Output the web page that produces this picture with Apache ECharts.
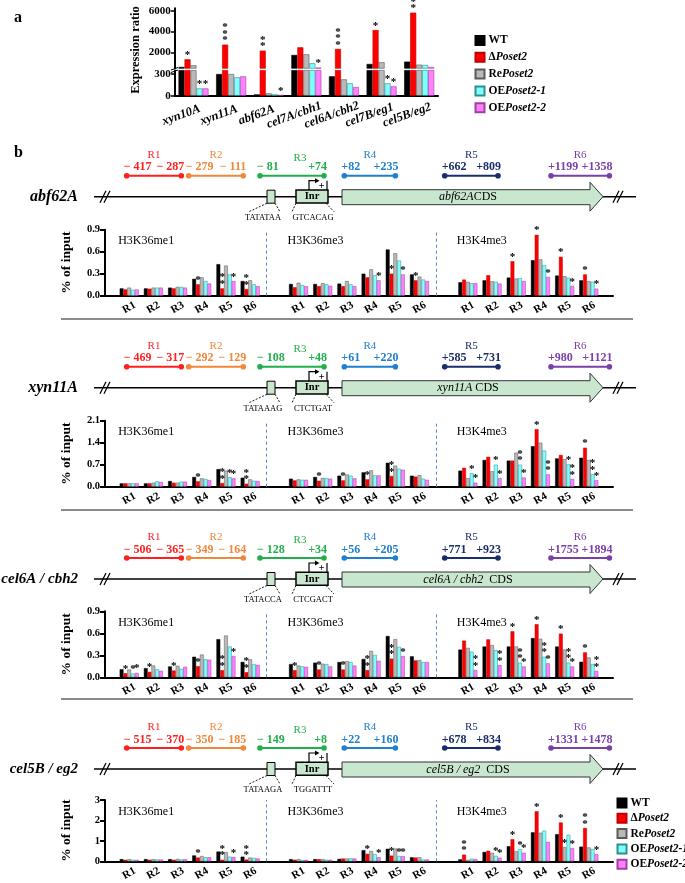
<!DOCTYPE html>
<html><head><meta charset="utf-8">
<script src="https://cdn.jsdelivr.net/npm/echarts@6/dist/echarts.min.js"></script>
<style>html,body{margin:0;padding:0;background:#fff}#c{width:685px;height:883px}</style>
</head><body><div id="c"></div>
<script>
const SERIF = '"Liberation Serif","Times New Roman",serif';

// ---------- common ----------
const seriesNames = ['WT','ΔPoset2','RePoset2','OEPoset2-1','OEPoset2-2'];
const seriesColors = ['#000000','#ff0000','#b9b9b9','#80ffff','#ff80ff'];
const seriesBorders = ['#000000','#c00000','#5a5a5a','#2f8f8f','#a040a0'];

// ---------- panel a ----------
const exprGenes = ['xyn10A','xyn11A','abf62A','cel7A/cbh1','cel6A/cbh2','cel7B/eg1','cel5B/eg2'];
const exprWT    = [580, 300,   18, 1742,  268,  871, 1097];
const exprDelta = [1323, 2742, 2161, 2484, 2323, 4161, 5839];
const exprRe    = [740, 300,   32, 1806,  226, 1032,  806];
const exprOE1   = [101, 254,   18,  935,  171,  171,  774];
const exprOE2   = [101, 268,    9,  516,  120,  129,  581];
const exprStars = [[1,0,'*'],[3,0,'*'],[4,0,'*'],[1,1,'*\n*\n*'],[1,2,'*\n*'],[4,2,'*'],[4,3,'*'],
                   [1,4,'*\n*\n*'],[1,5,'*'],[3,5,'*'],[4,5,'*'],[1,6,'*\n*']];
const exprLowerTicks = [0, 300];
const exprUpperTicks = [2000, 4000, 6000];

// ---------- panel b ----------
const regions = ['R1','R2','R3','R4','R5','R6'];
const marks = ['H3K36me1','H3K36me3','H3K4me3'];
const genes = ['abf62A','xyn11A','cel6A / cbh2','cel5B / eg2'];
const yMax  = [0.9, 2.1, 0.9, 3];
const yStep = [0.3, 0.7, 0.3, 1];

// values: H3K36me1 R1-R6, H3K36me3 R1-R6, H3K4me3 R1-R6
const abf62A_WT    = [0.10,0.10,0.11,0.23,0.43,0.20, 0.16,0.16,0.165,0.30,0.63,0.29, 0.183,0.21,0.247,0.485,0.275,0.21];
const abf62A_Delta = [0.086,0.095,0.10,0.155,0.10,0.09, 0.115,0.13,0.13,0.25,0.30,0.21, 0.22,0.28,0.47,0.83,0.53,0.29];
const abf62A_Re    = [0.11,0.11,0.12,0.25,0.41,0.21, 0.177,0.17,0.20,0.36,0.58,0.26, 0.19,0.197,0.233,0.495,0.265,0.20];
const abf62A_OE1   = [0.08,0.11,0.12,0.20,0.29,0.155, 0.145,0.155,0.155,0.28,0.48,0.22, 0.17,0.19,0.238,0.417,0.243,0.19];
const abf62A_OE2   = [0.085,0.11,0.11,0.165,0.20,0.13, 0.13,0.135,0.13,0.21,0.29,0.20, 0.17,0.165,0.20,0.256,0.133,0.096];
const abf62A_stars = [[1,3,'*'],[1,4,'*\n*'],[4,4,'*'],[1,5,'*\n*'],[4,9,'*'],[1,10,'*'],[4,10,'*'],[1,11,'*'],
                      [1,14,'*'],[1,15,'*'],[4,15,'*'],[1,16,'*'],[4,16,'*'],[1,17,'*'],[4,17,'*']];

const xyn11A_WT    = [0.106,0.106,0.18,0.31,0.56,0.286, 0.255,0.31,0.35,0.456,0.76,0.35, 0.51,0.85,0.83,1.29,0.90,0.92];
const xyn11A_Delta = [0.106,0.106,0.127,0.17,0.117,0.095, 0.20,0.19,0.20,0.233,0.34,0.32, 0.60,0.95,0.83,1.83,1.01,1.24];
const xyn11A_Re    = [0.106,0.127,0.127,0.265,0.51,0.233, 0.233,0.276,0.39,0.52,0.67,0.37, 0.27,0.49,1.08,1.40,0.88,0.85];
const xyn11A_OE1   = [0.106,0.17,0.16,0.244,0.30,0.19, 0.22,0.276,0.35,0.36,0.57,0.255, 0.43,0.70,0.70,1.15,0.71,0.40];
const xyn11A_OE2   = [0.106,0.15,0.16,0.21,0.265,0.18, 0.22,0.255,0.265,0.36,0.54,0.22, 0.13,0.27,0.29,0.39,0.245,0.21];
const xyn11A_stars = [[1,3,'*'],[1,4,'*\n*'],[3,4,'*'],[4,4,'*'],[1,5,'*\n*'],[1,7,'*'],[1,8,'*'],[1,9,'*'],[1,10,'*\n*'],
                      [3,12,'*'],[4,12,'*'],[3,13,'*'],[4,13,'*'],[3,14,'*\n*'],[4,14,'*'],[1,15,'*'],[4,15,'*\n*'],
                      [3,16,'*'],[4,16,'*\n*'],[1,17,'*'],[3,17,'*\n*'],[4,17,'*']];

const cel6A_WT    = [0.11,0.125,0.148,0.28,0.52,0.21, 0.18,0.20,0.208,0.25,0.563,0.286, 0.378,0.42,0.42,0.535,0.42,0.212];
const cel6A_Delta = [0.055,0.074,0.092,0.152,0.097,0.069, 0.097,0.106,0.106,0.097,0.254,0.23, 0.50,0.517,0.627,0.724,0.595,0.34];
const cel6A_Re    = [0.106,0.16,0.157,0.31,0.57,0.245, 0.16,0.185,0.22,0.36,0.52,0.235, 0.40,0.44,0.42,0.526,0.378,0.27];
const cel6A_OE1   = [0.05,0.11,0.115,0.245,0.42,0.18, 0.148,0.18,0.208,0.305,0.415,0.208, 0.35,0.37,0.20,0.28,0.20,0.18];
const cel6A_OE2   = [0.06,0.088,0.143,0.24,0.29,0.17, 0.143,0.148,0.16,0.226,0.29,0.208, 0.10,0.166,0.147,0.19,0.147,0.087];
const cel6A_stars = [[1,0,'*'],[3,0,'*'],[4,0,'*'],[1,1,'*'],[1,2,'*'],[1,3,'*'],[1,4,'*\n*'],[4,4,'*'],[1,5,'*\n*'],
                     [1,6,'*'],[1,7,'*'],[1,8,'*'],[1,9,'*\n*'],[1,10,'*\n*'],[4,10,'*'],
                     [4,12,'*\n*'],[4,13,'*\n*'],[1,14,'*'],[3,14,'*\n*'],[4,14,'*'],[1,15,'*'],[3,15,'*\n*'],[4,15,'*'],
                     [1,16,'*'],[3,16,'*\n*'],[4,16,'*'],[1,17,'*'],[4,17,'*\n*']];

const cel5B_WT    = [0.11,0.11,0.11,0.29,0.48,0.23, 0.11,0.11,0.12,0.55,0.615,0.20, 0.10,0.46,0.74,1.42,1.33,0.72];
const cel5B_Delta = [0.077,0.08,0.08,0.185,0.08,0.09, 0.08,0.11,0.14,0.37,0.28,0.185, 0.33,0.52,1.08,2.45,1.90,1.63];
const cel5B_Re    = [0.11,0.11,0.12,0.26,0.45,0.185, 0.11,0.11,0.14,0.51,0.63,0.20, 0.07,0.42,0.50,1.40,0.70,0.68];
const cel5B_OE1   = [0.077,0.09,0.09,0.20,0.23,0.17, 0.06,0.08,0.15,0.35,0.26,0.09, 0.13,0.27,0.60,1.50,1.30,0.60];
const cel5B_OE2   = [0.077,0.09,0.11,0.20,0.215,0.14, 0.077,0.08,0.14,0.20,0.26,0.09, 0.11,0.18,0.42,0.95,0.65,0.35];
const cel5B_stars = [[1,3,'*'],[1,4,'*\n*'],[4,4,'*'],[1,5,'*\n*'],[1,9,'*'],[4,9,'*'],[1,10,'*'],[3,10,'*'],[4,10,'*'],
                     [1,12,'*\n*'],[3,13,'*'],[4,13,'*'],[1,14,'*'],[3,14,'*'],[4,14,'*'],[1,15,'*'],
                     [1,16,'*'],[2,16,'*'],[4,16,'*'],[1,17,'*\n*'],[4,17,'*']];

// promoter schematic texts
const regionColors = ['#ff1f1f','#f2873a','#1fb04c','#1f7fd0','#1a2d6b','#7a3fa8'];
const regionNums = [
  [['− 417','− 287'],['− 279','− 111'],['− 81','+74'],['+82','+235'],['+662','+809'],['+1199','+1358']],
  [['− 469','− 317'],['− 292','− 129'],['− 108','+48'],['+61','+220'],['+585','+731'],['+980','+1121']],
  [['− 506','− 365'],['− 349','− 164'],['− 128','+34'],['+56','+205'],['+771','+923'],['+1755','+1894']],
  [['− 515','− 370'],['− 350','− 185'],['− 149','+8'],['+22','+160'],['+678','+834'],['+1331','+1478']]
];
const tataSeq = ['TATATAA','TATAAAG','TATACCA','TATAAGA'];
const inrSeq  = ['GTCACAG','CTCTGAT','CTCGACT','TGGATTT'];
const cdsGene = ['abf62A','xyn11A','cel6A / cbh2','cel5B / eg2'];
const cdsSuffix = ['CDS',' CDS','  CDS','  CDS'];

// ---------- layout (positions only) ----------
const L = {
  aLeft:174.7, aWidth:263.3, aUpTop:8.3, aUpH:60, aLowTop:70.4, aLowH:25.3,
  bLeft:105, bWidth:508,
  bTop:[229.7,420.7,611.3,800], bH:66,
  geneY:[196.7,387.7,579,769],
  sepY:[319,510,699],
  seg:[[126.7,181.3],[188.7,243.3],[260,324],[344.3,395.4],[444.7,498],[551,609.4]]
};

const geneData = [
  [abf62A_WT,abf62A_Delta,abf62A_Re,abf62A_OE1,abf62A_OE2],
  [xyn11A_WT,xyn11A_Delta,xyn11A_Re,xyn11A_OE1,xyn11A_OE2],
  [cel6A_WT,cel6A_Delta,cel6A_Re,cel6A_OE1,cel6A_OE2],
  [cel5B_WT,cel5B_Delta,cel5B_Re,cel5B_OE1,cel5B_OE2]
];
const geneStars = [abf62A_stars,xyn11A_stars,cel6A_stars,cel5B_stars];
const exprData = [exprWT,exprDelta,exprRe,exprOE1,exprOE2];

// ---------- build ----------
const starLabel = {show:true, position:'top', distance:1, color:'#000', fontFamily:SERIF,
                   fontSize:11, fontWeight:'bold', lineHeight:6.5};
function catsB(){ const c=['']; for(let m=0;m<3;m++){ regions.forEach(r=>c.push(r)); c.push(''); } return c; }
function posIdx(p){ return 1 + Math.floor(p/6)*7 + p%6; }

const grids=[], xAxes=[], yAxes=[], series=[];
const axisLineStyle = {show:true, lineStyle:{color:'#000', width:2}};

// panel a grids
grids.push({left:L.aLeft, top:L.aUpTop, width:L.aWidth, height:L.aUpH});
grids.push({left:L.aLeft, top:L.aLowTop, width:L.aWidth, height:L.aLowH});
xAxes.push({type:'category', gridIndex:0, data:exprGenes, show:false});
xAxes.push({type:'category', gridIndex:1, data:exprGenes, axisLine:axisLineStyle, axisTick:{show:false},
  axisLabel:{interval:0, rotate:20, margin:15, align:'center', verticalAlign:'middle', padding:[0,26,0,0],
    color:'#000', fontFamily:SERIF, fontSize:12.5, fontWeight:'bold', fontStyle:'italic'}});
const aYLabel = {color:'#000', fontFamily:SERIF, fontSize:11, fontWeight:'bold', margin:4, formatter:v=>String(v)};
yAxes.push({type:'value', gridIndex:0, min:450, max:6260, splitLine:{show:false}, axisLine:axisLineStyle,
  axisTick:{show:true, length:4, lineStyle:{width:1.5,color:'#000'}, customValues:exprUpperTicks},
  axisLabel:Object.assign({customValues:exprUpperTicks}, aYLabel)});
yAxes.push({type:'value', gridIndex:1, min:0, max:350, splitLine:{show:false}, axisLine:axisLineStyle,
  axisTick:{show:true, length:4, lineStyle:{width:1.5,color:'#000'}, customValues:exprLowerTicks},
  axisLabel:Object.assign({customValues:exprLowerTicks}, aYLabel)});

for(let s=0;s<5;s++){
  for(let part=0;part<2;part++){
    const data = exprData[s].map((v,i)=>{
      const st = exprStars.find(t=>t[0]===s && t[1]===i);
      const inPart = part===0 ? v>=450 : v<450;
      if(st && inPart) return {value:v, label:Object.assign({}, starLabel, {formatter:st[2]})};
      return v;
    });
    series.push({type:'bar', name:seriesNames[s], xAxisIndex:part, yAxisIndex:part, data,
      barWidth:6, barGap:'0%', itemStyle:{color:seriesColors[s], borderColor:seriesBorders[s], borderWidth:0.6},
      label:{show:false}, emphasis:{disabled:true}});
  }
}

// panel b grids
for(let g=0; g<4; g++){
  const gi = grids.length;
  grids.push({left:L.bLeft, top:L.bTop[g], width:L.bWidth, height:L.bH});
  xAxes.push({type:'category', gridIndex:gi, data:catsB(), boundaryGap:false, axisLine:axisLineStyle,
    axisTick:{show:false}, splitLine:{show:false},
    axisLabel:{interval:0, rotate:30, margin:12, align:'center', verticalAlign:'middle',
      color:'#000', fontFamily:SERIF, fontSize:11, fontWeight:'bold'}});
  const dec = yStep[g] < 1 ? 1 : 0;
  yAxes.push({type:'value', gridIndex:gi, min:0, max:yMax[g], interval:yStep[g], splitLine:{show:false},
    axisLine:axisLineStyle, axisTick:{show:true, length:5, lineStyle:{width:2,color:'#000'}},
    axisLabel:{color:'#000', fontFamily:SERIF, fontSize:10.5, fontWeight:'bold', margin:5,
      formatter:v=>v.toFixed(dec)},
    name:'% of input', nameLocation:'middle', nameGap:31,
    nameTextStyle:{color:'#000', fontFamily:SERIF, fontSize:13.5, fontWeight:'bold'}});
  for(let s=0;s<5;s++){
    const padded = [null];
    for(let m=0;m<3;m++){ for(let r=0;r<6;r++) padded.push(geneData[g][s][m*6+r]); padded.push(null); }
    geneStars[g].filter(t=>t[0]===s).forEach(t=>{
      const k = posIdx(t[1]);
      padded[k] = {value:padded[k], label:Object.assign({}, starLabel, {formatter:t[2]})};
    });
    const ser = {type:'bar', name:seriesNames[s], xAxisIndex:gi, yAxisIndex:gi, data:padded,
      barWidth:3.8, barGap:'0%', itemStyle:{color:seriesColors[s], borderColor:seriesBorders[s], borderWidth:0.5},
      emphasis:{disabled:true}};
    if(s===0){
      ser.markLine = {silent:true, symbol:'none', label:{show:false},
        lineStyle:{type:[3,3], color:'#5b86c4', width:1},
        data:[{xAxis:7},{xAxis:14}]};
    }
    series.push(ser);
  }
}

// ---------- graphics (text, schematics) ----------
const gfx = [];
function T(x,y,text,font,fill,align,valign,extra){
  return Object.assign({type:'text', x, y, silent:true,
    style:{text, font, fill:fill||'#000', align:align||'left', verticalAlign:valign||'middle'}}, extra||{});
}
function Ln(x1,y1,x2,y2,stroke,w,dash){
  return {type:'line', silent:true, shape:{x1,y1,x2,y2}, style:{stroke:stroke||'#000', lineWidth:w||1, lineDash:dash||null}};
}
const F = (sz,w,st)=>`${st||'normal'} ${w||'normal'} ${sz}px ${SERIF}`;

gfx.push(T(14,18,'a',F(16,'bold'),'#000','left','middle'));
gfx.push(T(14,153,'b',F(16,'bold'),'#000','left','middle'));
gfx.push(T(136,50,'Expression ratio',F(12.5,'bold'),'#000','center','middle',{rotation:Math.PI/2}));
// axis break marks
gfx.push(Ln(171,70,178,67.5,'#000',1));
gfx.push(Ln(171,72.5,178,70,'#000',1));

for(let g=0; g<4; g++){
  const y = L.geneY[g];
  // region segments
  L.seg.forEach((s,i)=>{
    const c = regionColors[i], sy = y-21;
    gfx.push(Ln(s[0],sy,s[1],sy,c,2));
    gfx.push({type:'circle', silent:true, shape:{cx:s[0],cy:sy,r:2.8}, style:{fill:c}});
    gfx.push({type:'circle', silent:true, shape:{cx:s[1],cy:sy,r:2.8}, style:{fill:c}});
    gfx.push(T((s[0]+s[1])/2 + (i===2?8:0), y-41.5 + (i===2?3:0), 'R'+(i+1), F(11), c, 'center','middle'));
    gfx.push(T(s[0]-3, y-29.5, regionNums[g][i][0], F(12,'bold'), c, 'left','middle'));
    gfx.push(T(s[1]+3, y-29.5, regionNums[g][i][1], F(12,'bold'), c, 'right','middle'));
  });
  // gene name
  gfx.push(T(78, y, genes[g], F(g>=2?15:16,'bold','italic'), '#000','right','middle'));
  // main line
  gfx.push(Ln(94,y,636,y,'#000',1.5));
  [105,618].forEach(bx=>{
    gfx.push(Ln(bx-5,y+6,bx+1,y-6,'#000',1.2));
    gfx.push(Ln(bx-1,y+6,bx+5,y-6,'#000',1.2));
  });
  // TATA box
  gfx.push({type:'rect', silent:true, shape:{x:267,y:y-6.5,width:8,height:13}, style:{fill:'#c9e6cf',stroke:'#000',lineWidth:1}});
  gfx.push(Ln(267,y+6.5,249,y+15,'#000',0.9,[2,1.5]));
  gfx.push(Ln(275,y+6.5,280,y+15,'#000',0.9,[2,1.5]));
  gfx.push(T(263, y+21, tataSeq[g], F(8.5), '#000','center','middle'));
  // Inr box
  gfx.push({type:'rect', silent:true, shape:{x:296,y:y-6.7,width:32,height:13}, style:{fill:'#c9e6cf',stroke:'#000',lineWidth:1.5}});
  gfx.push(T(312, y, 'Inr', F(10.5,'bold'), '#000','center','middle'));
  gfx.push(Ln(296,y+6.5,292,y+15,'#000',0.9,[2,1.5]));
  gfx.push(Ln(326,y+6.5,334,y+15,'#000',0.9,[2,1.5]));
  gfx.push(T(313, y+21, inrSeq[g], F(8.5), '#000','center','middle'));
  // TSS arrow
  gfx.push({type:'polyline', silent:true, shape:{points:[[309,y-6.7],[309,y-16],[316,y-16]]}, style:{stroke:'#000',lineWidth:1.2,fill:null}});
  gfx.push({type:'polygon', silent:true, shape:{points:[[315,y-18.5],[319.5,y-16],[315,y-13.5]]}, style:{fill:'#000'}});
  gfx.push(T(321.5, y-10.5, '+', F(10,'bold'), '#000','center','middle'));
  gfx.push(Ln(327,y-16,327,y-6.7,'#000',1.2));
  // CDS arrow
  gfx.push({type:'polygon', silent:true,
    shape:{points:[[342,y-7],[590,y-7],[590,y-14.5],[603,y],[590,y+14.5],[590,y+8],[342,y+8]]},
    style:{fill:'#c9e6cf', stroke:'#333', lineWidth:1}});
  gfx.push({type:'text', silent:true, x:468, y:y+0.5, style:{
    text:'{i|'+cdsGene[g]+'}{n|'+cdsSuffix[g]+'}', align:'center', verticalAlign:'middle',
    rich:{i:{fontFamily:SERIF, fontStyle:'italic', fontSize:12, fill:'#000'},
          n:{fontFamily:SERIF, fontSize:12, fill:'#000'}}}});
  // panel titles
  marks.forEach((mk,m)=>{
    gfx.push(T(L.bLeft + (m*7+1)*(L.bWidth/21) - 11, L.bTop[g]+11.5, mk, F(12), '#000','left','middle'));
  });
}
L.sepY.forEach(sy=>gfx.push(Ln(61,sy,633,sy,'#666',1.5)));

// legends
const legendRich = {
  b:{fontFamily:SERIF, fontWeight:'bold', fontSize:11.5, color:'#000'},
  i:{fontFamily:SERIF, fontWeight:'bold', fontStyle:'italic', fontSize:11.5, color:'#000'}
};
const legendFmt = n => ({'WT':'{b|WT}','ΔPoset2':'{b|Δ}{i|Poset2}','RePoset2':'{b|Re}{i|Poset2}',
  'OEPoset2-1':'{b|OE}{i|Poset2-1}','OEPoset2-2':'{b|OE}{i|Poset2-2}'})[n];
function legend(left, top, gap){
  return {left, top, orient:'vertical', itemWidth:9, itemHeight:9, itemGap:gap, icon:'rect',
    data:seriesNames, selectedMode:false, formatter:legendFmt,
    textStyle:{rich:legendRich, lineHeight:9, padding:[0,0,0,-1]}};
}

const chart = echarts.init(document.getElementById('c'), null, {renderer:'canvas', width:685, height:883});
chart.setOption({
  animation:false,
  backgroundColor:'#fff',
  textStyle:{fontFamily:SERIF},
  grid:grids, xAxis:xAxes, yAxis:yAxes, series,
  legend:[legend(469.5, 29.5, 4.8), legend(611.5, 792, 3.3)],
  graphic:{elements:gfx}
});
</script></body></html>
